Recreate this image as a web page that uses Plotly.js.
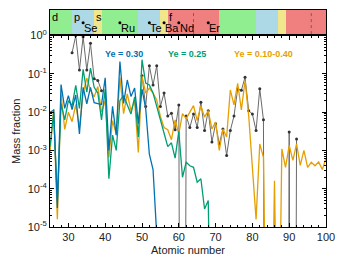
<!DOCTYPE html>
<html><head><meta charset="utf-8">
<script src="https://cdn.plot.ly/plotly-3.0.1.min.js"></script>
<style>html,body{margin:0;padding:0;background:#fff}#c{width:350px;height:263px}</style>
</head><body><div id="c"></div>
<script>
// ---- data (log10 of mass fraction) ----
const zBlue = [25,26,27,28,29,30,31,32,33,34,35,36,37,38,39,40,41,42,43,44,45,46,47,48,49,50,51,52,53,54];
const logBlue = [-2.0,-1.95,-4.5,-1.28,-1.9,-1.57,-1.93,-1.55,-2.57,-1.35,-1.78,-1.35,-1.75,-1.78,-1.8,-1.1,-3.0,-1.85,-2.6,-0.68,-1.77,-1.16,-1.59,-1.37,-2.3,-1.4,-1.9,-3.1,-3.5,-5.2];

const zGreen = [25,26,27,28,29,30,31,32,33,34,35,36,37,38,39,40,41,42,43,44,45,46,47,48,49,50,51,52,53,54,55,56,57,58,59,60,61,62,63,64,65,66,67,68,69];
const logGreen = [-2.9,-2.0,-4.3,-1.78,-2.2,-1.7,-1.83,-1.3,-1.9,-0.88,-1.48,-0.85,-1.35,-1.5,-2.2,-1.4,-3.74,-2.6,-3.0,-1.7,-1.57,-1.83,-2.05,-1.6,-2.65,-0.63,-1.24,-1.29,-1.5,-1.85,-2.24,-2.55,-2.9,-2.8,-3.2,-2.5,-3.7,-3.31,-3.4,-3.44,-3.83,-3.74,-4.53,-4.31,-10];

const zOrange = [25,26,27,28,29,30,31,32,33,34,35,36,37,38,39,40,41,42,43,44,45,46,47,48,49,50,51,52,53,54,55,56,57,58,59,60,61,62,63,64,65,66,67,68,69,70,71,72,73,74,75,76,77,78,79,80,81,82,83,84,85,86,87,88,89,90,91,92,93,94,95,96,97,98,99,100];
const logOrange = [-3.05,-1.92,-4.8,-1.52,-2.45,-2.0,-2.25,-1.8,-2.4,-1.5,-1.11,-1.42,-1.6,-1.33,-2.0,-1.70,-3.18,-2.22,-2.57,-1.1,-2.04,-1.52,-1.96,-1.7,-3.05,-1.06,-1.5,-1.37,-1.5,-1.68,-2.11,-2.4,-2.46,-2.72,-2.2,-2.57,-2.04,-2.17,-2.0,-1.83,-2.22,-1.83,-2.13,-1.96,-2.44,-2.26,-3.0,-2.44,-2.65,-1.42,-1.81,-1.25,-1.94,-1.18,-2.1,-3.5,-4.8,-2.83,-3.18,-10,-10,-3.79,-10,-2.96,-3.44,-2.87,-3.26,-2.83,-3.39,-3.0,-3.44,-3.31,-3.4,-3.3,-3.5,-3.2];

const zObs = [31,32,33,34,35,36,37,38,39,40,41,42,43,44,45,46,47,48,49,50,51,52,53,54,55,56,57,58,59,60,61,62,63,64,65,66,67,68,69,70,71,72,73,74,75,76,77,78,79,80,81,82,83,84,85,86,87,88,89,90,91,92];
const logObs = [-0.45,0.0,-0.9,-0.03,-0.9,-0.2,-1.13,-1.17,-1.44,null,null,null,null,null,null,null,null,null,null,-1.05,-1.85,-0.79,-1.29,-0.79,-1.85,-1.5,-2.1,-2.03,-2.46,-1.81,-30,-2.1,-2.4,-2.05,-2.4,-1.74,-2.48,-1.96,-2.78,-2.3,-2.83,-2.44,-3.13,-2.48,-2.1,-1.39,-1.43,-1.09,-1.96,-2.05,-2.48,-1.39,-2.2,-30,-30,-30,-30,-30,-30,-2.52,-30,-2.7];

// periodic-table blocks for the top strip
const blockStart = [21,31,37,39,49,55,57,71,81,87,89];
const blockEnd   = [31,37,39,49,55,57,71,81,87,89,103];
const blockType  = ['d','p','s','d','p','s','f','d','p','s','f'];
const halfFilled = [64,96];
const markZ   = [34,44,52,56,60,68];
const markSym = ['Se','Ru','Te','Ba','Nd','Er'];

const seriesLabels = ['Ye = 0.30','Ye = 0.25','Ye = 0.10-0.40'];
const seriesLabelZ = [45.1,62.1,82.9];
const yTickVals = [1e-5,1e-4,1e-3,1e-2,1e-1,1];
const yTickText = ['10<sup>-5</sup>','10<sup>-4</sup>','10<sup>-3</sup>','10<sup>-2</sup>','10<sup>-1</sup>','10<sup>0</sup>'];

// ---- styles ----
const cBlue='#0072B2', cGreen='#009E73', cOrange='#E69F00', cObs='#6a6a6a';
const blockColor = {d:'#90EE90', p:'#ADD8E6', s:'#F0E68C', f:'#F08080'};
const FONT = 'Liberation Sans, Arial, Helvetica, sans-serif';
const toLin = a => a.map(v => v === null ? null : Math.pow(10, v));

// first block of each type gets its letter
const firstIdx = blockType.map((t,i)=>blockType.indexOf(t)===i ? i : -1).filter(i=>i>=0);

const traces = [
  {type:'bar', xaxis:'x2', yaxis:'y2', x: blockStart.map((s,i)=>(s+blockEnd[i])/2),
   width: blockStart.map((s,i)=>blockEnd[i]-s), y: blockStart.map(()=>1), base: 0,
   marker:{color: blockType.map(t=>blockColor[t]), line:{width:0}}, hoverinfo:'skip', showlegend:false},
  {type:'scatter', mode:'lines', xaxis:'x2', yaxis:'y2',
   x: halfFilled.flatMap(z=>[z,z,null]), y: halfFilled.flatMap(()=>[0,1,null]),
   line:{color:'#555', width:0.8, dash:'dot'}, showlegend:false},
  {type:'scatter', mode:'markers', xaxis:'x2', yaxis:'y2', x: markZ, y: markZ.map(()=>0.47),
   marker:{color:'#000', size:3}, showlegend:false}
];
const lineTraces = [
  {type:'scatter', mode:'lines+markers', x: zObs, y: toLin(logObs), line:{color:cObs, width:1},
   marker:{color:'#333', size:3}, connectgaps:false, showlegend:false},
  {type:'scatter', mode:'lines', x: zOrange, y: toLin(logOrange), line:{color:cOrange, width:1.3}, showlegend:false},
  {type:'scatter', mode:'lines', x: zGreen, y: toLin(logGreen), line:{color:cGreen, width:1.3}, showlegend:false},
  {type:'scatter', mode:'lines', x: zBlue, y: toLin(logBlue), line:{color:cBlue, width:1.3}, showlegend:false}
];

const annotations = [];
const seriesColors = [cBlue, cGreen, cOrange];
seriesLabels.forEach((t,i)=>annotations.push({text:'<b>'+t+'</b>', x: seriesLabelZ[i], xref:'x', y:0.941, yref:'y domain',
  showarrow:false, font:{family:FONT, size:9, color:seriesColors[i]}}));
markZ.forEach((z,i)=>annotations.push({text: markSym[i], x:z, xref:'x2', y:0.55, yref:'y2', xanchor:'left', yanchor:'top',
  showarrow:false, font:{family:FONT, size:11, color:'#000'}, borderpad:0}));
firstIdx.forEach(i=>annotations.push({text: '<span>'+blockType[i]+'</span>', x: Math.max(blockStart[i],25)+0.15, xref:'x2',
  y:1, yref:'y2', xanchor:'left', yanchor:'top', showarrow:false, borderpad:0,
  font:{family:FONT, size:11, color:'#000'}}));

const layout = {
  width:350, height:263, margin:{l:50, r:24, t:10, b:36},
  paper_bgcolor:'#fff', plot_bgcolor:'#fff', font:{family:FONT, size:11, color:'#222'},
  showlegend:false, bargap:0,
  xaxis:{domain:[0,1], anchor:'y', range:[25,100], tick0:0, dtick:10, ticks:'inside', ticklen:4, tickcolor:'#000',
    minor:{ticks:'inside', ticklen:2, dtick:2, tickcolor:'#000'},
    showline:true, linecolor:'#000', linewidth:1, mirror:'ticks', showgrid:false, zeroline:false,
    tickfont:{family:FONT, size:11, color:'#222'},
    title:{text:'Atomic number', font:{family:FONT, size:11, color:'#222'}, standoff:4}},
  yaxis:{domain:[0,0.882], anchor:'x', type:'log', range:[-5,0], tickmode:'array', tickvals:yTickVals, ticktext:yTickText,
    ticks:'inside', ticklen:4, tickcolor:'#000', minor:{ticks:'inside', ticklen:2, dtick:'D1', tickcolor:'#000'},
    showline:true, linecolor:'#000', linewidth:1, mirror:'ticks', showgrid:false, zeroline:false,
    tickfont:{family:FONT, size:11, color:'#222'},
    title:{text:'Mass fraction', font:{family:FONT, size:11, color:'#222'}, standoff:4}},
  xaxis2:{anchor:'y2', matches:'x', range:[25,100], showticklabels:false, ticks:'', showline:true, linecolor:'#000',
    linewidth:1, mirror:true, showgrid:false, zeroline:false},
  yaxis2:{domain:[0.889,1], anchor:'x2', range:[0,1], showticklabels:false, ticks:'', showline:true, linecolor:'#000',
    linewidth:1, mirror:true, showgrid:false, zeroline:false},
  annotations: annotations
};
Plotly.newPlot('c', traces.concat(lineTraces), layout, {staticPlot:true, displayModeBar:false});
</script></body></html>
